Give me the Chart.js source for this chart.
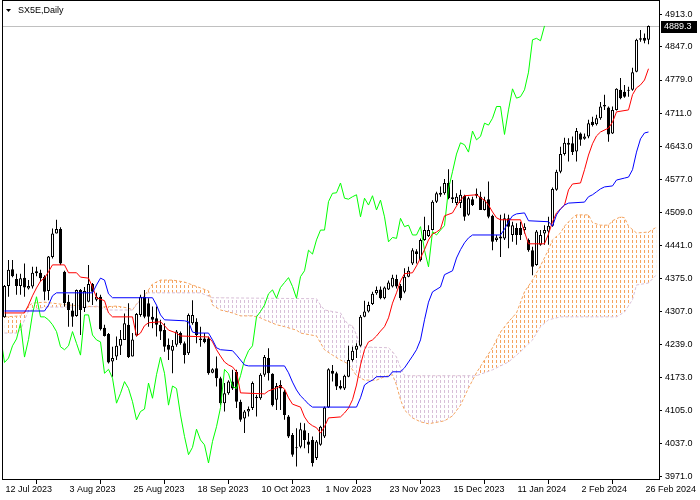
<!DOCTYPE html>
<html><head><meta charset="utf-8">
<script src="https://cdn.jsdelivr.net/npm/chart.js@4.4.1/dist/chart.umd.min.js"></script>
<style>html,body{margin:0;padding:0;background:#fff;overflow:hidden}canvas{display:block}</style>
</head><body>
<canvas id="c" width="700" height="500"></canvas>
<script>
const symbolTitle = 'SX5E,Daily';
const bidPrice = 4889.3;
const chikouShift = 26;
const xTickIndex = [0,16,32,48,64,80,96,112,128,144,160];
const xTickLabels = ['12 Jul 2023','3 Aug 2023','25 Aug 2023','18 Sep 2023','10 Oct 2023','1 Nov 2023','23 Nov 2023','15 Dec 2023','11 Jan 2024','2 Feb 2024','26 Feb 2024'];
const yTickValues = [3971,4037,4105,4173,4239,4307,4375,4441,4509,4577,4643,4711,4779,4847,4913];

const opens = [4295,4359,4393,4373,4359,4376,4354,4358,4389,4386,4378,4349,4418,4466,4475,4388,4327,4309,4298,4351,
4314,4327,4363,4331,4337,4274,4261,4205,4215,4237,4249,4280,4215,4258,4300,4337,4324,4296,4293,4280,
4269,4239,4227,4239,4263,4242,4222,4283,4286,4252,4252,4252,4182,4191,4171,4120,4140,4164,4184,4123,
4089,4103,4110,4133,4130,4178,4212,4180,4127,4157,4144,4093,4055,4028,4031,4065,4042,4045,4008,4035,
4052,4111,4186,4181,4155,4150,4174,4208,4229,4237,4296,4307,4322,4344,4352,4334,4352,4358,4373,4359,
4347,4378,4405,4430,4412,4453,4461,4473,4531,4545,4548,4569,4540,4528,4528,4543,4504,4536,4547,4541,
4514,4536,4502,4453,4460,4456,4497,4463,4477,4477,4473,4453,4432,4402,4443,4466,4470,4482,4555,4592,
4628,4651,4650,4633,4670,4659,4664,4694,4689,4701,4728,4723,4670,4718,4759,4755,4757,4759,4796,4861,
4865,4861];
const highs = [4361,4412,4412,4384,4384,4405,4371,4398,4398,4392,4381,4420,4476,4494,4479,4390,4341,4324,4352,4353,
4357,4402,4365,4345,4341,4280,4263,4235,4256,4269,4303,4324,4263,4304,4341,4351,4334,4317,4317,4290,
4283,4252,4249,4269,4266,4246,4303,4330,4293,4276,4263,4256,4191,4215,4174,4161,4167,4188,4188,4127,
4106,4113,4164,4137,4181,4218,4232,4181,4161,4167,4147,4096,4059,4069,4080,4079,4059,4052,4045,4074,
4113,4191,4198,4184,4167,4178,4237,4235,4242,4300,4329,4327,4347,4358,4358,4358,4370,4382,4382,4363,
4395,4398,4436,4434,4456,4500,4483,4534,4551,4562,4577,4597,4575,4548,4555,4545,4541,4541,4558,4551,
4541,4572,4504,4463,4504,4507,4504,4490,4487,4490,4487,4456,4439,4473,4473,4483,4500,4560,4596,4643,
4661,4660,4664,4681,4672,4670,4698,4704,4708,4734,4749,4725,4725,4762,4783,4769,4765,4804,4863,4881,
4874,4890];
const lows = [4294,4337,4377,4341,4341,4337,4352,4354,4379,4368,4330,4330,4415,4466,4402,4317,4276,4276,4296,4259,
4306,4326,4320,4328,4268,4256,4201,4174,4208,4218,4249,4212,4215,4256,4296,4293,4276,4273,4256,4249,
4225,4208,4181,4235,4239,4201,4218,4280,4242,4235,4242,4178,4181,4154,4116,4103,4137,4147,4110,4082,
4059,4093,4106,4093,4127,4174,4166,4113,4106,4106,4086,4049,4011,3991,4028,4028,4018,3991,4004,4033,
4049,4110,4164,4147,4148,4147,4173,4205,4212,4235,4295,4305,4320,4341,4332,4332,4351,4356,4354,4330,
4344,4377,4402,4405,4409,4451,4459,4472,4528,4541,4545,4536,4528,4524,4518,4492,4502,4522,4538,4514,
4513,4497,4432,4449,4418,4453,4436,4449,4443,4453,4466,4429,4381,4400,4441,4443,4443,4480,4553,4589,
4625,4613,4626,4613,4645,4657,4660,4684,4686,4698,4718,4653,4669,4717,4740,4743,4745,4757,4795,4857,
4854,4852];
const closes = [4359,4392,4379,4359,4375,4356,4359,4386,4385,4375,4347,4419,4466,4475,4405,4324,4310,4296,4351,4310,
4349,4363,4347,4337,4271,4257,4203,4212,4237,4251,4283,4214,4250,4302,4337,4296,4296,4290,4280,4266,
4235,4229,4237,4266,4242,4218,4300,4300,4259,4249,4245,4181,4189,4171,4120,4140,4164,4150,4123,4086,
4103,4108,4161,4130,4178,4214,4181,4116,4155,4150,4096,4052,4015,4030,4067,4045,4035,3998,4042,4072,
4111,4189,4180,4154,4150,4176,4208,4227,4237,4296,4307,4320,4343,4351,4334,4356,4366,4376,4358,4334,
4378,4390,4432,4424,4453,4473,4473,4531,4548,4549,4569,4538,4536,4541,4545,4500,4538,4524,4543,4514,
4534,4500,4449,4458,4456,4497,4480,4483,4463,4463,4480,4432,4398,4470,4463,4473,4482,4557,4592,4628,
4651,4647,4632,4675,4657,4664,4691,4687,4701,4725,4725,4668,4718,4761,4742,4745,4759,4795,4861,4864,
4859,4889.3];

// Ichimoku lines: [bar index, value]
const tenkan = [[0,4304],[5,4304],[6,4320],[7,4339],[8,4355],[9,4369],[10,4375],[11,4388],[12,4402],[15,4402],[16,4386],[18,4386],[19,4377],[21,4375],[22,4357],[23,4335],[25,4329],[26,4304],[27,4296],[32,4296],[33,4257],[34,4263],[35,4278],[36,4284],[39,4286],[40,4278],[41,4269],[43,4263],[44,4257],[51,4255],[52,4245],[53,4229],[54,4216],[55,4204],[56,4198],[57,4194],[58,4184],[59,4141],[65,4139],[66,4145],[68,4151],[69,4155],[70,4149],[71,4131],[72,4118],[74,4112],[75,4092],[76,4080],[77,4074],[78,4070],[79,4059],[80,4072],[81,4090],[84,4092],[85,4100],[86,4110],[87,4127],[88,4157],[89,4198],[90,4229],[91,4245],[92,4249],[93,4257],[94,4267],[95,4276],[96,4294],[97,4324],[98,4345],[99,4369],[100,4384],[102,4386],[103,4400],[104,4416],[105,4433],[106,4453],[107,4465],[108,4469],[109,4475],[110,4502],[112,4508],[113,4522],[114,4534],[115,4543],[118,4545],[119,4539],[120,4534],[121,4524],[122,4510],[123,4498],[124,4494],[129,4494],[130,4469],[131,4445],[135,4445],[136,4465],[137,4490],[138,4508],[139,4516],[140,4524],[141,4555],[142,4567],[144,4569],[145,4596],[146,4626],[147,4649],[148,4665],[149,4673],[151,4681],[152,4693],[153,4714],[156,4718],[157,4749],[158,4763],[159,4769],[160,4779],[161,4802]];
const kijun = [[0,4308],[10,4308],[11,4320],[12,4339],[13,4345],[22,4345],[23,4361],[24,4375],[25,4371],[26,4343],[27,4335],[37,4335],[38,4320],[39,4300],[40,4290],[45,4288],[46,4286],[47,4265],[48,4263],[51,4263],[52,4249],[53,4233],[54,4229],[57,4227],[58,4218],[59,4208],[60,4198],[61,4196],[70,4196],[71,4182],[72,4163],[73,4147],[74,4135],[75,4127],[76,4118],[77,4112],[88,4112],[89,4131],[90,4157],[91,4163],[92,4167],[93,4174],[96,4174],[97,4184],[99,4184],[100,4192],[101,4204],[102,4216],[103,4229],[104,4249],[105,4290],[106,4326],[107,4347],[109,4357],[110,4382],[112,4390],[113,4416],[114,4433],[115,4447],[116,4457],[117,4463],[124,4463],[125,4475],[126,4490],[127,4502],[128,4506],[130,4508],[131,4492],[136,4490],[137,4481],[138,4504],[139,4516],[140,4524],[141,4528],[145,4530],[146,4541],[147,4545],[148,4551],[149,4557],[150,4561],[152,4563],[153,4575],[155,4579],[156,4581],[157,4596],[158,4632],[159,4659],[160,4671],[161,4673]];
const senkouA = [[0,4296],[4,4298],[5,4306],[6,4318],[7,4324],[10,4326],[12,4324],[16,4320],[20,4318],[24,4316],[28,4318],[31,4314],[32,4310],[33,4322],[35,4339],[37,4363],[39,4371],[42,4371],[45,4367],[47,4361],[49,4355],[51,4349],[52,4320],[54,4310],[57,4304],[59,4298],[62,4298],[64,4294],[65,4290],[68,4280],[70,4276],[73,4269],[74,4263],[78,4257],[79,4243],[80,4229],[82,4218],[84,4208],[86,4200],[87,4188],[88,4176],[90,4167],[93,4167],[95,4174],[97,4178],[98,4157],[99,4127],[100,4106],[102,4090],[104,4082],[106,4078],[110,4084],[112,4094],[114,4116],[116,4151],[118,4182],[120,4208],[122,4233],[124,4265],[126,4286],[128,4304],[130,4347],[132,4371],[134,4400],[136,4433],[137,4453],[139,4467],[140,4481],[142,4498],[143,4504],[146,4504],[147,4488],[149,4483],[151,4483],[152,4492],[154,4500],[155,4498],[156,4481],[158,4467],[161,4469],[163,4479]];
const senkouB = [[0,4263],[3,4263],[4,4269],[5,4290],[6,4308],[10,4316],[21,4316],[23,4318],[26,4310],[32,4310],[34,4331],[36,4345],[49,4345],[52,4335],[78,4333],[79,4320],[80,4310],[84,4304],[85,4290],[86,4280],[87,4278],[88,4259],[89,4235],[96,4233],[97,4225],[98,4214],[99,4192],[100,4176],[118,4176],[122,4188],[126,4204],[129,4225],[132,4249],[134,4276],[136,4290],[139,4296],[153,4296],[155,4306],[157,4331],[158,4361],[161,4365],[163,4382]];

const canvas = document.getElementById('c');
const ctx0 = canvas.getContext('2d');
function hatch(color){
  const t = document.createElement('canvas'); t.width = 4; t.height = 5;
  const g = t.getContext('2d'); g.fillStyle = color; g.fillRect(0,0,1,3);
  return ctx0.createPattern(t,'repeat');
}
const orangeHatch = hatch('#F4A460');
const thistleHatch = hatch('#D8BFD8');
const pts = arr => arr.map(p => ({x:p[0], y:p[1]}));

Chart.defaults.font.family = '"Liberation Sans", Arial, sans-serif';
Chart.defaults.font.size = 9;
Chart.defaults.color = '#000';

const decor = {
  id:'decor',
  beforeDatasetsDraw(chart){
    const {ctx, chartArea:a, scales:{y}} = chart;
    const py = Math.round(y.getPixelForValue(bidPrice));
    ctx.save(); ctx.fillStyle = '#C0C0C0'; ctx.fillRect(a.left, py, a.right-a.left, 1); ctx.restore();
  },
  afterDraw(chart){
    const {ctx, chartArea:a, scales:{y}} = chart;
    ctx.save();
    ctx.fillStyle = '#000';
    ctx.fillRect(a.left-1, 0, 1, a.bottom);
    ctx.fillRect(a.left-1, 0, a.right-a.left+1, 1);
    ctx.fillRect(a.right, 0, 1, a.bottom+1);
    ctx.fillRect(a.left-1, a.bottom, a.right-a.left+2, 1);
    ctx.beginPath(); ctx.moveTo(6,9); ctx.lineTo(11,9); ctx.lineTo(8.5,12); ctx.closePath(); ctx.fill();
    ctx.font = '9px "Liberation Sans"'; ctx.textBaseline = 'middle'; ctx.textAlign = 'left';
    ctx.fillText(symbolTitle, 18, 11);
    const py = Math.round(y.getPixelForValue(bidPrice));
    ctx.fillRect(661, py-5, 36, 12);
    ctx.fillStyle = '#fff';
    ctx.fillText(bidPrice.toFixed(1), 664, py+1);
    ctx.restore();
  }
};

new Chart(canvas, {
  data: {
    datasets: [
      {type:'line', label:'Senkou A', data: pts(senkouA), borderColor:'#F4A460', borderWidth:1, borderDash:[3,2], pointRadius:0, tension:0,
        fill:{target:'+1', above: orangeHatch, below: thistleHatch}, order:7},
      {type:'line', label:'Senkou B', data: pts(senkouB), borderColor:'#D8BFD8', borderWidth:1, borderDash:[3,2], pointRadius:0, tension:0, fill:false, order:6},
      {type:'bar', label:'wick', data: lows.map((l,i)=>({x:i, y:[l, highs[i]]})), backgroundColor:'#000', borderWidth:0,
        barThickness:1, grouped:false, inflateAmount:0, order:5},
      {type:'bar', label:'body', data: opens.map((o,i)=>({x:i, y:[o, closes[i]]})),
        backgroundColor: c => closes[c.dataIndex] >= opens[c.dataIndex] ? '#FFFFFF' : '#000000',
        borderColor:'#000', borderWidth:1, borderSkipped:false, barThickness:3, minBarLength:1, grouped:false, inflateAmount:0, order:4},
      {type:'line', label:'Chikou', data: closes.map((c,i)=>({x:i-chikouShift, y:c})), borderColor:'#00FF00', borderWidth:1, pointRadius:0, tension:0, fill:false, order:3},
      {type:'line', label:'Tenkan', data: pts(tenkan), borderColor:'#FF0000', borderWidth:1, pointRadius:0, tension:0, fill:false, order:2},
      {type:'line', label:'Kijun', data: pts(kijun), borderColor:'#0000FF', borderWidth:1, pointRadius:0, tension:0, fill:false, order:1}
    ]
  },
  options: {
    responsive:false, animation:false, devicePixelRatio:1, events:[],
    layout:{padding:{left:3, top:1, right:0, bottom:0}},
    plugins:{legend:{display:false}, tooltip:{enabled:false}, title:{display:false}},
    scales:{
      x:{type:'linear', min:-0.375, max:163.625, offset:false,
        grid:{display:true, drawOnChartArea:false, drawTicks:true, tickLength:5, color:'#000'},
        border:{display:false},
        ticks:{autoSkip:false, maxRotation:0, minRotation:0, align:'start', padding:0, labelOffset:1,
          callback: v => { const k = xTickIndex.indexOf(v); return k >= 0 ? xTickLabels[k] : ''; }},
        afterBuildTicks: s => { s.ticks = xTickIndex.map(v => ({value:v})); },
        afterFit: s => { s.height = 21; s.paddingLeft = 0; s.paddingRight = 0; }
      },
      y:{type:'linear', position:'right', min:3965.4, max:4940.1,
        grid:{display:true, drawOnChartArea:false, drawTicks:true, tickLength:3, color:'#000'},
        border:{display:false},
        ticks:{padding:3, callback: v => Number(v).toFixed(1)},
        afterBuildTicks: s => { s.ticks = yTickValues.map(v => ({value:v})); },
        afterFit: s => { s.width = 41; s.paddingTop = 0; s.paddingBottom = 0; }
      }
    }
  },
  plugins:[decor]
});
</script>
</body></html>
